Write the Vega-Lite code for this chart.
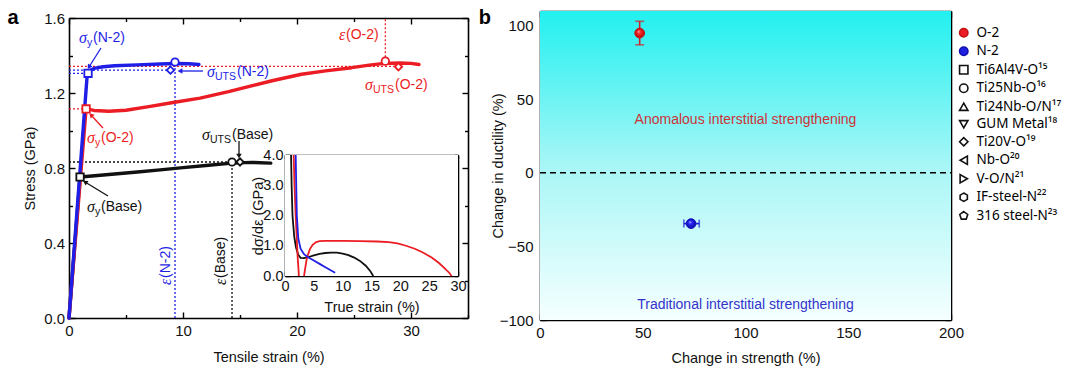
{
  "$schema": "https://vega.github.io/schema/vega-lite/v6.json",
  "width": 1080,
  "height": 372,
  "autosize": "none",
  "padding": 0,
  "background": "white",
  "config": {
    "font": "Liberation Sans",
    "view": {"stroke": null},
    "axis": {"grid": false, "domainColor": "#000", "domainWidth": 1.6, "tickColor": "#000", "tickWidth": 1.4, "labelFont": "Liberation Sans", "labelFontSize": 15, "labelColor": "#111", "titleFont": "Liberation Sans", "titleFontSize": 14.5, "titleFontWeight": "normal", "titleColor": "#111", "labelFlush": false, "labelOverlap": false, "zindex": 1, "labelPadding": 4}
  },
  "datasets": {
    "curves": [
      {"s": "Base", "x": 0, "y": 0}, {"s": "Base", "x": 0.97, "y": 0.752}, {"s": "Base", "x": 2, "y": 0.757}, {"s": "Base", "x": 4, "y": 0.768}, {"s": "Base", "x": 6, "y": 0.779}, {"s": "Base", "x": 8, "y": 0.79}, {"s": "Base", "x": 10, "y": 0.802}, {"s": "Base", "x": 12, "y": 0.813}, {"s": "Base", "x": 14.3, "y": 0.826}, {"s": "Base", "x": 16, "y": 0.83}, {"s": "Base", "x": 17.7, "y": 0.826},
      {"s": "O-2", "x": 0, "y": 0}, {"s": "O-2", "x": 1.5, "y": 1.115}, {"s": "O-2", "x": 2.2, "y": 1.107}, {"s": "O-2", "x": 3.5, "y": 1.103}, {"s": "O-2", "x": 5, "y": 1.108}, {"s": "O-2", "x": 7, "y": 1.127}, {"s": "O-2", "x": 9, "y": 1.148}, {"s": "O-2", "x": 11.5, "y": 1.173}, {"s": "O-2", "x": 14, "y": 1.207}, {"s": "O-2", "x": 16, "y": 1.238}, {"s": "O-2", "x": 18, "y": 1.268}, {"s": "O-2", "x": 20.4, "y": 1.3}, {"s": "O-2", "x": 22.5, "y": 1.318}, {"s": "O-2", "x": 24.8, "y": 1.335}, {"s": "O-2", "x": 26.5, "y": 1.35}, {"s": "O-2", "x": 27.7, "y": 1.358}, {"s": "O-2", "x": 29, "y": 1.36}, {"s": "O-2", "x": 30, "y": 1.358}, {"s": "O-2", "x": 30.7, "y": 1.352},
      {"s": "N-2", "x": 0, "y": 0}, {"s": "N-2", "x": 1.6, "y": 1.3}, {"s": "N-2", "x": 1.9, "y": 1.322}, {"s": "N-2", "x": 2.3, "y": 1.333}, {"s": "N-2", "x": 3, "y": 1.34}, {"s": "N-2", "x": 4, "y": 1.345}, {"s": "N-2", "x": 6, "y": 1.35}, {"s": "N-2", "x": 8, "y": 1.355}, {"s": "N-2", "x": 9.3, "y": 1.357}, {"s": "N-2", "x": 10.5, "y": 1.356}, {"s": "N-2", "x": 11.4, "y": 1.352}
    ],
    "inset": [
      {"s": "Base", "g": "b", "x": 1.05, "y": 4}, {"s": "Base", "g": "b", "x": 1.15, "y": 3}, {"s": "Base", "g": "b", "x": 1.3, "y": 2}, {"s": "Base", "g": "b", "x": 1.6, "y": 1.3}, {"s": "Base", "g": "b", "x": 1.9, "y": 0.95}, {"s": "Base", "g": "b", "x": 2.3, "y": 0.7}, {"s": "Base", "g": "b", "x": 2.7, "y": 0.6}, {"s": "Base", "g": "b", "x": 3.3, "y": 0.59}, {"s": "Base", "g": "b", "x": 4, "y": 0.62}, {"s": "Base", "g": "b", "x": 5, "y": 0.68}, {"s": "Base", "g": "b", "x": 6, "y": 0.73}, {"s": "Base", "g": "b", "x": 7, "y": 0.76}, {"s": "Base", "g": "b", "x": 8, "y": 0.775}, {"s": "Base", "g": "b", "x": 9, "y": 0.77}, {"s": "Base", "g": "b", "x": 10, "y": 0.74}, {"s": "Base", "g": "b", "x": 11, "y": 0.69}, {"s": "Base", "g": "b", "x": 12, "y": 0.61}, {"s": "Base", "g": "b", "x": 13, "y": 0.5}, {"s": "Base", "g": "b", "x": 14, "y": 0.34}, {"s": "Base", "g": "b", "x": 14.8, "y": 0.16}, {"s": "Base", "g": "b", "x": 15.3, "y": 0},
      {"s": "O-2", "g": "r1", "x": 1.5, "y": 4}, {"s": "O-2", "g": "r1", "x": 1.65, "y": 3}, {"s": "O-2", "g": "r1", "x": 1.85, "y": 2}, {"s": "O-2", "g": "r1", "x": 2.05, "y": 1.2}, {"s": "O-2", "g": "r1", "x": 2.2, "y": 0.6}, {"s": "O-2", "g": "r1", "x": 2.35, "y": 0.2}, {"s": "O-2", "g": "r1", "x": 2.4, "y": 0},
      {"s": "O-2", "g": "r2", "x": 3.3, "y": 0}, {"s": "O-2", "g": "r2", "x": 3.5, "y": 0.25}, {"s": "O-2", "g": "r2", "x": 3.8, "y": 0.6}, {"s": "O-2", "g": "r2", "x": 4.3, "y": 0.88}, {"s": "O-2", "g": "r2", "x": 4.8, "y": 1.03}, {"s": "O-2", "g": "r2", "x": 5.4, "y": 1.12}, {"s": "O-2", "g": "r2", "x": 6, "y": 1.15}, {"s": "O-2", "g": "r2", "x": 7, "y": 1.16}, {"s": "O-2", "g": "r2", "x": 10, "y": 1.16}, {"s": "O-2", "g": "r2", "x": 13, "y": 1.15}, {"s": "O-2", "g": "r2", "x": 16, "y": 1.14}, {"s": "O-2", "g": "r2", "x": 18, "y": 1.12}, {"s": "O-2", "g": "r2", "x": 19.5, "y": 1.08}, {"s": "O-2", "g": "r2", "x": 21, "y": 1.0}, {"s": "O-2", "g": "r2", "x": 22.5, "y": 0.9}, {"s": "O-2", "g": "r2", "x": 24, "y": 0.77}, {"s": "O-2", "g": "r2", "x": 25.5, "y": 0.6}, {"s": "O-2", "g": "r2", "x": 26.7, "y": 0.43}, {"s": "O-2", "g": "r2", "x": 27.7, "y": 0.25}, {"s": "O-2", "g": "r2", "x": 28.5, "y": 0.1}, {"s": "O-2", "g": "r2", "x": 28.9, "y": 0},
      {"s": "N-2", "g": "n", "x": 1.85, "y": 4}, {"s": "N-2", "g": "n", "x": 1.95, "y": 3}, {"s": "N-2", "g": "n", "x": 2.05, "y": 2}, {"s": "N-2", "g": "n", "x": 2.3, "y": 1.25}, {"s": "N-2", "g": "n", "x": 2.7, "y": 0.9}, {"s": "N-2", "g": "n", "x": 3.3, "y": 0.72}, {"s": "N-2", "g": "n", "x": 4, "y": 0.62}, {"s": "N-2", "g": "n", "x": 5, "y": 0.51}, {"s": "N-2", "g": "n", "x": 6, "y": 0.4}, {"s": "N-2", "g": "n", "x": 7, "y": 0.29}, {"s": "N-2", "g": "n", "x": 8, "y": 0.18}, {"s": "N-2", "g": "n", "x": 8.7, "y": 0.11}
    ],
    "markers": [
      {"s": "N-2", "k": "yield", "x": 1.67, "y": 1.305}, {"s": "O-2", "k": "yield", "x": 1.5, "y": 1.115}, {"s": "Base", "k": "yield", "x": 0.97, "y": 0.752},
      {"s": "N-2", "k": "elong", "x": 9.3, "y": 1.365}, {"s": "O-2", "k": "elong", "x": 27.75, "y": 1.37}, {"s": "Base", "k": "elong", "x": 14.3, "y": 0.832},
      {"s": "N-2", "k": "uts", "x": 8.9, "y": 1.322}, {"s": "O-2", "k": "uts", "x": 28.9, "y": 1.34}, {"s": "Base", "k": "uts", "x": 15.0, "y": 0.832}
    ],
    "refs": [
      {"s": "N-2", "x": 0, "x2": 8.9, "y": 1.322, "y2": 1.322}, {"s": "N-2", "x": 0, "x2": 1.67, "y": 1.305, "y2": 1.305}, {"s": "N-2", "x": 9.3, "x2": 9.3, "y": 0, "y2": 1.365},
      {"s": "O-2", "x": 0, "x2": 28.9, "y": 1.342, "y2": 1.342}, {"s": "O-2", "x": 0, "x2": 1.5, "y": 1.115, "y2": 1.115}, {"s": "O-2", "x": 27.75, "x2": 27.75, "y": 1.37, "y2": 1.6},
      {"s": "Base", "x": 0, "x2": 14.3, "y": 0.832, "y2": 0.832}, {"s": "Base", "x": 14.3, "x2": 14.3, "y": 0, "y2": 0.832}
    ],
    "arrows": [
      {"s": "N-2", "x": 2.807, "y": 1.44, "x2": 1.754, "y2": 1.3387, "ang": 212},
      {"s": "N-2", "x": 11.754, "y": 1.3173, "x2": 9.737, "y2": 1.3173, "ang": 270},
      {"s": "O-2", "x": 2.982, "y": 1.0133, "x2": 1.93, "y2": 1.0827, "ang": 317},
      {"s": "Base", "x": 14.912, "y": 0.944, "x2": 14.912, "y2": 0.864, "ang": 180},
      {"s": "Base", "x": 3.421, "y": 0.6507, "x2": 1.404, "y2": 0.7253, "ang": 301}
    ],
    "labels": [
      {"s": "N-2", "k": "sym", "t": "σ", "x": 0.877, "y": 1.4933}, {"s": "N-2", "k": "sub", "t": "y", "x": 1.579, "y": 1.4933}, {"s": "N-2", "k": "rest", "t": "(N-2)", "x": 2.105, "y": 1.4933},
      {"s": "N-2", "k": "sym", "t": "σ", "x": 12.105, "y": 1.312}, {"s": "N-2", "k": "sub", "t": "UTS", "x": 12.807, "y": 1.312}, {"s": "N-2", "k": "rest", "t": "(N-2)", "x": 14.737, "y": 1.312},
      {"s": "O-2", "k": "sym", "t": "σ", "x": 1.579, "y": 0.96}, {"s": "O-2", "k": "sub", "t": "y", "x": 2.281, "y": 0.96}, {"s": "O-2", "k": "rest", "t": "(O-2)", "x": 2.807, "y": 0.96},
      {"s": "Base", "k": "sym", "t": "σ", "x": 11.667, "y": 0.976}, {"s": "Base", "k": "sub", "t": "UTS", "x": 12.368, "y": 0.976}, {"s": "Base", "k": "rest", "t": "(Base)", "x": 14.298, "y": 0.976},
      {"s": "Base", "k": "sym", "t": "σ", "x": 1.579, "y": 0.592}, {"s": "Base", "k": "sub", "t": "y", "x": 2.281, "y": 0.592}, {"s": "Base", "k": "rest", "t": "(Base)", "x": 2.807, "y": 0.592},
      {"s": "O-2", "k": "sym", "t": "σ", "x": 25.965, "y": 1.2427}, {"s": "O-2", "k": "sub", "t": "UTS", "x": 26.667, "y": 1.2427}, {"s": "O-2", "k": "rest", "t": "(O-2)", "x": 28.596, "y": 1.2427},
      {"s": "O-2", "k": "sym", "t": "ε", "x": 23.684, "y": 1.5093}, {"s": "O-2", "k": "rest", "t": "(O-2)", "x": 24.298, "y": 1.5093},
      {"s": "N-2", "k": "rsym", "t": "ε", "x": 8.509, "y": 0.176}, {"s": "N-2", "k": "rrest", "t": "(N-2)", "x": 8.509, "y": 0.2133},
      {"s": "Base", "k": "rsym", "t": "ε", "x": 13.333, "y": 0.176}, {"s": "Base", "k": "rrest", "t": "(Base)", "x": 13.333, "y": 0.2133}
    ],
    "points": [
      {"name": "O-2", "x": 48.5, "y": 95, "xlo": 48.5, "xhi": 48.5, "ylo": 87, "yhi": 103},
      {"name": "N-2", "x": 73.5, "y": -34.5, "xlo": 70, "xhi": 77.5, "ylo": -34.5, "yhi": -34.5}
    ],
    "notes": [
      {"s": "a", "t": "Anomalous interstitial strengthening", "x": 100, "y": 35.9},
      {"s": "t", "t": "Traditional interstitial strengthening", "x": 100, "y": -89.8}
    ]
  },
  "layer": [
    {
      "layer": [
        {
          "data": {"name": "refs"},
          "mark": {"type": "rule", "strokeDash": [2, 2], "strokeWidth": 1.3},
          "encoding": {
            "x": {"field": "x", "type": "quantitative", "axis": {"orient": "top", "offset": -18, "values": [0, 5, 10, 15, 20, 25, 30, 35], "labels": false, "title": null, "tickSize": {"condition": {"test": "datum.value % 10 === 0", "value": -6}, "value": -3.5}}},
            "x2": {"field": "x2"},
            "y": {"field": "y", "type": "quantitative", "axis": {"orient": "right", "offset": -612, "values": [0, 0.2, 0.4, 0.6, 0.8, 1, 1.2, 1.4, 1.6], "labels": false, "title": null, "tickSize": {"condition": {"test": "round(datum.value*10) % 4 === 0", "value": -6}, "value": -3.5}}},
            "y2": {"field": "y2"},
            "color": {"field": "s", "type": "nominal", "legend": null}
          }
        },
        {
          "data": {"name": "curves"},
          "mark": {"type": "line", "strokeWidth": 3.4, "strokeCap": "round", "strokeJoin": "round"},
          "encoding": {
            "x": {"field": "x", "type": "quantitative", "scale": {"domain": [0, 35], "range": [69, 468], "nice": false, "zero": false}, "axis": {"orient": "bottom", "offset": -54, "values": [0, 5, 10, 15, 20, 25, 30, 35], "labelExpr": "datum.value % 10 === 0 ? datum.label : ''", "title": "Tensile strain (%)", "labelPadding": 11.5, "titlePadding": 9, "tickSize": {"condition": {"test": "datum.value % 10 === 0", "value": -6}, "value": -3.5}}},
            "y": {"field": "y", "type": "quantitative", "scale": {"domain": [0, 1.6], "range": [318, 18], "nice": false, "zero": false}, "axis": {"orient": "left", "offset": -69, "values": [0, 0.2, 0.4, 0.6, 0.8, 1, 1.2, 1.4, 1.6], "labelExpr": "round(datum.value*10) % 4 === 0 ? format(datum.value, '.1f') : ''", "title": "Stress (GPa)", "labelPadding": 10.5, "titlePadding": 6, "tickSize": {"condition": {"test": "round(datum.value*10) % 4 === 0", "value": -6}, "value": -3.5}}},
            "color": {"field": "s", "type": "nominal", "scale": {"domain": ["N-2", "O-2", "Base"], "range": ["#1e1ee6", "#ec1c24", "#111111"]}, "legend": null}
          }
        },
        {
          "data": {"name": "markers"},
          "mark": {"type": "point", "filled": true, "fill": "white", "strokeWidth": 1.8, "size": 55, "opacity": 1},
          "encoding": {
            "x": {"field": "x", "type": "quantitative", "axis": null},
            "y": {"field": "y", "type": "quantitative", "axis": null},
            "stroke": {"field": "s", "type": "nominal", "scale": {"domain": ["N-2", "O-2", "Base"], "range": ["#1e1ee6", "#ec1c24", "#111111"]}, "legend": null},
            "shape": {"field": "k", "type": "nominal", "scale": {"domain": ["yield", "elong", "uts"], "range": ["square", "circle", "diamond"]}, "legend": null}
          }
        },
        {
          "data": {"name": "arrows"},
          "mark": {"type": "rule", "strokeWidth": 1.3},
          "encoding": {
            "x": {"field": "x", "type": "quantitative", "axis": null},
            "y": {"field": "y", "type": "quantitative", "axis": null},
            "x2": {"field": "x2"},
            "y2": {"field": "y2"},
            "color": {"field": "s", "type": "nominal", "legend": null}
          }
        },
        {
          "data": {"name": "arrows"},
          "mark": {"type": "point", "shape": "triangle-up", "filled": true, "size": 30, "opacity": 1},
          "encoding": {
            "x": {"field": "x2", "type": "quantitative", "axis": null},
            "y": {"field": "y2", "type": "quantitative", "axis": null},
            "angle": {"field": "ang", "type": "quantitative", "scale": null},
            "color": {"field": "s", "type": "nominal", "legend": null}
          }
        },
        {
          "data": {"name": "labels"},
          "transform": [{"filter": "datum.k === 'sym'"}],
          "mark": {"type": "text", "font": "Liberation Serif", "fontStyle": "italic", "fontSize": 16, "align": "left", "baseline": "middle"},
          "encoding": {
            "x": {"field": "x", "type": "quantitative", "axis": null},
            "y": {"field": "y", "type": "quantitative", "axis": null},
            "text": {"field": "t"},
            "color": {"field": "s", "type": "nominal", "legend": null}
          }
        },
        {
          "data": {"name": "labels"},
          "transform": [{"filter": "datum.k === 'sub'"}],
          "mark": {"type": "text", "fontSize": 10.5, "align": "left", "baseline": "middle", "dy": 5},
          "encoding": {
            "x": {"field": "x", "type": "quantitative", "axis": null},
            "y": {"field": "y", "type": "quantitative", "axis": null},
            "text": {"field": "t"},
            "color": {"field": "s", "type": "nominal", "legend": null}
          }
        },
        {
          "data": {"name": "labels"},
          "transform": [{"filter": "datum.k === 'rest'"}],
          "mark": {"type": "text", "fontSize": 14, "align": "left", "baseline": "middle"},
          "encoding": {
            "x": {"field": "x", "type": "quantitative", "axis": null},
            "y": {"field": "y", "type": "quantitative", "axis": null},
            "text": {"field": "t"},
            "color": {"field": "s", "type": "nominal", "legend": null}
          }
        },
        {
          "data": {"name": "labels"},
          "transform": [{"filter": "datum.k === 'rsym'"}],
          "mark": {"type": "text", "font": "Liberation Serif", "fontStyle": "italic", "fontSize": 16, "align": "left", "baseline": "middle", "angle": 270},
          "encoding": {
            "x": {"field": "x", "type": "quantitative", "axis": null},
            "y": {"field": "y", "type": "quantitative", "axis": null},
            "text": {"field": "t"},
            "color": {"field": "s", "type": "nominal", "legend": null}
          }
        },
        {
          "data": {"name": "labels"},
          "transform": [{"filter": "datum.k === 'rrest'"}],
          "mark": {"type": "text", "fontSize": 14, "align": "left", "baseline": "middle", "angle": 270},
          "encoding": {
            "x": {"field": "x", "type": "quantitative", "axis": null},
            "y": {"field": "y", "type": "quantitative", "axis": null},
            "text": {"field": "t"},
            "color": {"field": "s", "type": "nominal", "legend": null}
          }
        },
        {
          "data": {"values": [{}]},
          "mark": {"type": "text", "text": "a", "fontWeight": "bold", "fontSize": 20, "align": "center", "baseline": "middle", "color": "#000"},
          "encoding": {
            "x": {"datum": -4.9, "type": "quantitative", "axis": null},
            "y": {"datum": 1.6, "type": "quantitative", "axis": null}
          }
        }
      ],
      "resolve": {"axis": {"x": "independent", "y": "independent"}}
    },
    {
      "layer": [
        {
          "data": {"values": [{}]},
          "mark": {"type": "rect", "fill": "white"},
          "encoding": {
            "x": {"datum": 0, "type": "quantitative", "axis": {"orient": "top", "offset": -155, "values": [0, 2.5, 5, 7.5, 10, 12.5, 15, 17.5, 20, 22.5, 25, 27.5, 30], "labels": false, "title": null, "tickSize": -3.5}},
            "x2": {"datum": 30},
            "y": {"datum": 0, "type": "quantitative", "axis": {"orient": "right", "offset": -622, "values": [0, 0.5, 1, 1.5, 2, 2.5, 3, 3.5, 4], "labels": false, "title": null, "tickSize": -3.5}},
            "y2": {"datum": 4}
          }
        },
        {
          "data": {"name": "inset"},
          "mark": {"type": "line", "strokeWidth": 1.8},
          "encoding": {
            "x": {"field": "x", "type": "quantitative", "scale": {"domain": [0, 30], "range": [285, 458], "nice": false, "zero": false}, "axis": {"orient": "bottom", "offset": -96, "values": [0, 2.5, 5, 7.5, 10, 12.5, 15, 17.5, 20, 22.5, 25, 27.5, 30], "labelExpr": "datum.value % 5 === 0 ? datum.label : ''", "labelFontSize": 14.5, "title": "True strain (%)", "labelPadding": 8.5, "titlePadding": 5, "tickSize": {"condition": {"test": "datum.value % 5 === 0", "value": -5}, "value": -3}}},
            "y": {"field": "y", "type": "quantitative", "scale": {"domain": [0, 4], "range": [276, 155], "nice": false, "zero": false}, "axis": {"orient": "left", "offset": -285, "values": [0, 0.5, 1, 1.5, 2, 2.5, 3, 3.5, 4], "labelExpr": "datum.value % 1 === 0 ? datum.label : ''", "labelFontSize": 14.5, "title": "dσ/dε (GPa)", "labelPadding": 7, "titlePadding": -3, "tickSize": {"condition": {"test": "datum.value % 1 === 0", "value": -5}, "value": -3}}},
            "color": {"field": "s", "type": "nominal", "scale": {"domain": ["N-2", "O-2", "Base"], "range": ["#1e1ee6", "#ec1c24", "#111111"]}, "legend": null},
            "detail": {"field": "g"}
          }
        }
      ],
      "resolve": {"axis": {"x": "independent", "y": "independent"}}
    },
    {
      "layer": [
        {
          "data": {"values": [{}]},
          "mark": {"type": "rect", "fill": {"gradient": "linear", "x1": 0, "y1": 0, "x2": 0, "y2": 1, "stops": [{"offset": 0, "color": "#22f0f0"}, {"offset": 0.5, "color": "#a8f6f6"}, {"offset": 1, "color": "#f5ffff"}]}},
          "encoding": {
            "x": {"datum": 0, "type": "quantitative", "scale": {"domain": [0, 200], "range": [540, 951], "nice": false, "zero": false}, "axis": {"orient": "bottom", "offset": -52, "values": [0, 25, 50, 75, 100, 125, 150, 175, 200], "labelExpr": "datum.value % 50 === 0 ? datum.label : ''", "title": "Change in strength (%)", "labelPadding": 11.5, "titlePadding": 8, "tickSize": {"condition": {"test": "datum.value % 50 === 0", "value": -6}, "value": -3.5}}},
            "x2": {"datum": 200},
            "y": {"datum": -100, "type": "quantitative", "scale": {"domain": [-100, 110], "range": [320, 11], "nice": false, "zero": false}, "axis": {"orient": "left", "offset": -540, "values": [-100, -75, -50, -25, 0, 25, 50, 75, 100], "labelExpr": "datum.value % 50 === 0 ? datum.label : ''", "title": "Change in ductility (%)", "labelPadding": 13, "titlePadding": -6, "tickSize": {"condition": {"test": "datum.value % 50 === 0", "value": -6}, "value": -3.5}}},
            "y2": {"datum": 110}
          }
        },
        {
          "data": {"values": [{}]},
          "mark": {"type": "rule", "strokeDash": [6, 4], "strokeWidth": 1.5, "color": "#000"},
          "encoding": {
            "x": {"datum": 0, "type": "quantitative", "axis": {"orient": "top", "offset": -11, "values": [0, 25, 50, 75, 100, 125, 150, 175, 200], "labels": false, "title": null, "tickSize": {"condition": {"test": "datum.value % 50 === 0", "value": -6}, "value": -3.5}}},
            "x2": {"datum": 200},
            "y": {"datum": 0, "type": "quantitative", "axis": {"orient": "right", "offset": -129, "values": [-100, -75, -50, -25, 0, 25, 50, 75, 100], "labels": false, "title": null, "tickSize": {"condition": {"test": "datum.value % 50 === 0", "value": -6}, "value": -3.5}}}
          }
        },
        {
          "data": {"name": "notes"},
          "transform": [{"filter": "datum.s === 'a'"}],
          "mark": {"type": "text", "fontSize": 14, "align": "center", "baseline": "middle", "color": "#cc3338"},
          "encoding": {
            "x": {"field": "x", "type": "quantitative", "axis": null},
            "y": {"field": "y", "type": "quantitative", "axis": null},
            "text": {"field": "t"}
          }
        },
        {
          "data": {"name": "notes"},
          "transform": [{"filter": "datum.s === 't'"}],
          "mark": {"type": "text", "fontSize": 14, "align": "center", "baseline": "middle", "color": "#3333cc"},
          "encoding": {
            "x": {"field": "x", "type": "quantitative", "axis": null},
            "y": {"field": "y", "type": "quantitative", "axis": null},
            "text": {"field": "t"}
          }
        },
        {
          "data": {"name": "points"},
          "transform": [{"filter": "datum.name === 'O-2'"}],
          "mark": {"type": "errorbar", "ticks": {"size": 9}, "thickness": 1.6, "color": "#d42028"},
          "encoding": {
            "x": {"field": "x", "type": "quantitative", "axis": null},
            "y": {"field": "ylo", "type": "quantitative", "axis": null},
            "y2": {"field": "yhi"}
          }
        },
        {
          "data": {"name": "points"},
          "transform": [{"filter": "datum.name === 'N-2'"}],
          "mark": {"type": "errorbar", "ticks": {"size": 8}, "thickness": 1.6, "color": "#2020d8"},
          "encoding": {
            "y": {"field": "y", "type": "quantitative", "axis": null},
            "x": {"field": "xlo", "type": "quantitative", "axis": null},
            "x2": {"field": "xhi"}
          }
        },
        {
          "data": {"name": "points"},
          "mark": {"type": "point", "filled": true, "size": 95, "strokeWidth": 1, "opacity": 1},
          "encoding": {
            "x": {"field": "x", "type": "quantitative", "axis": null},
            "y": {"field": "y", "type": "quantitative", "axis": null},
            "shape": {"field": "name", "type": "nominal",
              "scale": {"domain": ["O-2", "N-2", "Ti6Al4V-O¹⁵", "Ti25Nb-O¹⁶", "Ti24Nb-O/N¹⁷", "GUM Metal¹⁸", "Ti20V-O¹⁹", "Nb-O²⁰", "V-O/N²¹", "IF-steel-N²²", "316 steel-N²³"],
                "range": ["circle", "circle", "square", "circle", "triangle-up", "triangle-down", "diamond", "triangle-left", "triangle-right", "M0,-1L0.866,-0.5L0.866,0.5L0,1L-0.866,0.5L-0.866,-0.5Z", "M0,-1L0.951,-0.309L0.588,0.809L-0.588,0.809L-0.951,-0.309Z"]},
              "legend": {"title": null, "orient": "none", "legendX": 957, "legendY": 26, "symbolSize": 70, "symbolStrokeWidth": 1.6, "labelFont": "Noto Sans", "labelFontSize": 13.5, "labelOffset": 6, "rowPadding": 2.5, "labelLimit": 200,
                "encode": {"labels": {"update": {"fill": {"signal": "datum.label === 'O-2' ? '#e0282e' : datum.label === 'N-2' ? '#2424d0' : '#111111'"}}}}}},
            "stroke": {"field": "name", "type": "nominal",
              "scale": {"domain": ["O-2", "N-2", "Ti6Al4V-O¹⁵", "Ti25Nb-O¹⁶", "Ti24Nb-O/N¹⁷", "GUM Metal¹⁸", "Ti20V-O¹⁹", "Nb-O²⁰", "V-O/N²¹", "IF-steel-N²²", "316 steel-N²³"],
                "range": ["#c01010", "#1010b0", "#111111", "#111111", "#111111", "#111111", "#111111", "#111111", "#111111", "#111111", "#111111"]}},
            "fill": {"field": "name", "type": "nominal",
              "scale": {"domain": ["O-2", "N-2", "Ti6Al4V-O¹⁵", "Ti25Nb-O¹⁶", "Ti24Nb-O/N¹⁷", "GUM Metal¹⁸", "Ti20V-O¹⁹", "Nb-O²⁰", "V-O/N²¹", "IF-steel-N²²", "316 steel-N²³"],
                "range": ["#ee1c24", "#2020e0", "white", "white", "white", "white", "white", "white", "white", "white", "white"]}}
          }
        },
        {
          "data": {"name": "points"},
          "transform": [{"filter": "datum.name === 'O-2'"}],
          "mark": {"type": "point", "filled": true, "size": 80, "opacity": 1, "strokeWidth": 0, "fill": {"gradient": "radial", "x1": 0.38, "y1": 0.32, "r1": 0, "x2": 0.5, "y2": 0.5, "r2": 0.55, "stops": [{"offset": 0, "color": "#ffe0e0"}, {"offset": 0.3, "color": "#ff2a2a"}, {"offset": 1, "color": "#b00a0a"}]}},
          "encoding": {
            "x": {"field": "x", "type": "quantitative", "axis": null},
            "y": {"field": "y", "type": "quantitative", "axis": null}
          }
        },
        {
          "data": {"name": "points"},
          "transform": [{"filter": "datum.name === 'N-2'"}],
          "mark": {"type": "point", "filled": true, "size": 80, "opacity": 1, "strokeWidth": 0, "fill": {"gradient": "radial", "x1": 0.38, "y1": 0.32, "r1": 0, "x2": 0.5, "y2": 0.5, "r2": 0.55, "stops": [{"offset": 0, "color": "#e0e0ff"}, {"offset": 0.3, "color": "#2a2aff"}, {"offset": 1, "color": "#0a0aa0"}]}},
          "encoding": {
            "x": {"field": "x", "type": "quantitative", "axis": null},
            "y": {"field": "y", "type": "quantitative", "axis": null}
          }
        },
        {
          "data": {"values": [{}]},
          "mark": {"type": "text", "text": "b", "fontWeight": "bold", "fontSize": 20, "align": "center", "baseline": "middle", "color": "#000"},
          "encoding": {
            "x": {"datum": -26.8, "type": "quantitative", "axis": null},
            "y": {"datum": 105.2, "type": "quantitative", "axis": null}
          }
        }
      ],
      "resolve": {"axis": {"x": "independent", "y": "independent"}}
    }
  ],
  "resolve": {"scale": {"x": "independent", "y": "independent", "color": "independent", "stroke": "independent", "shape": "independent", "fill": "independent", "angle": "independent"}}
}
